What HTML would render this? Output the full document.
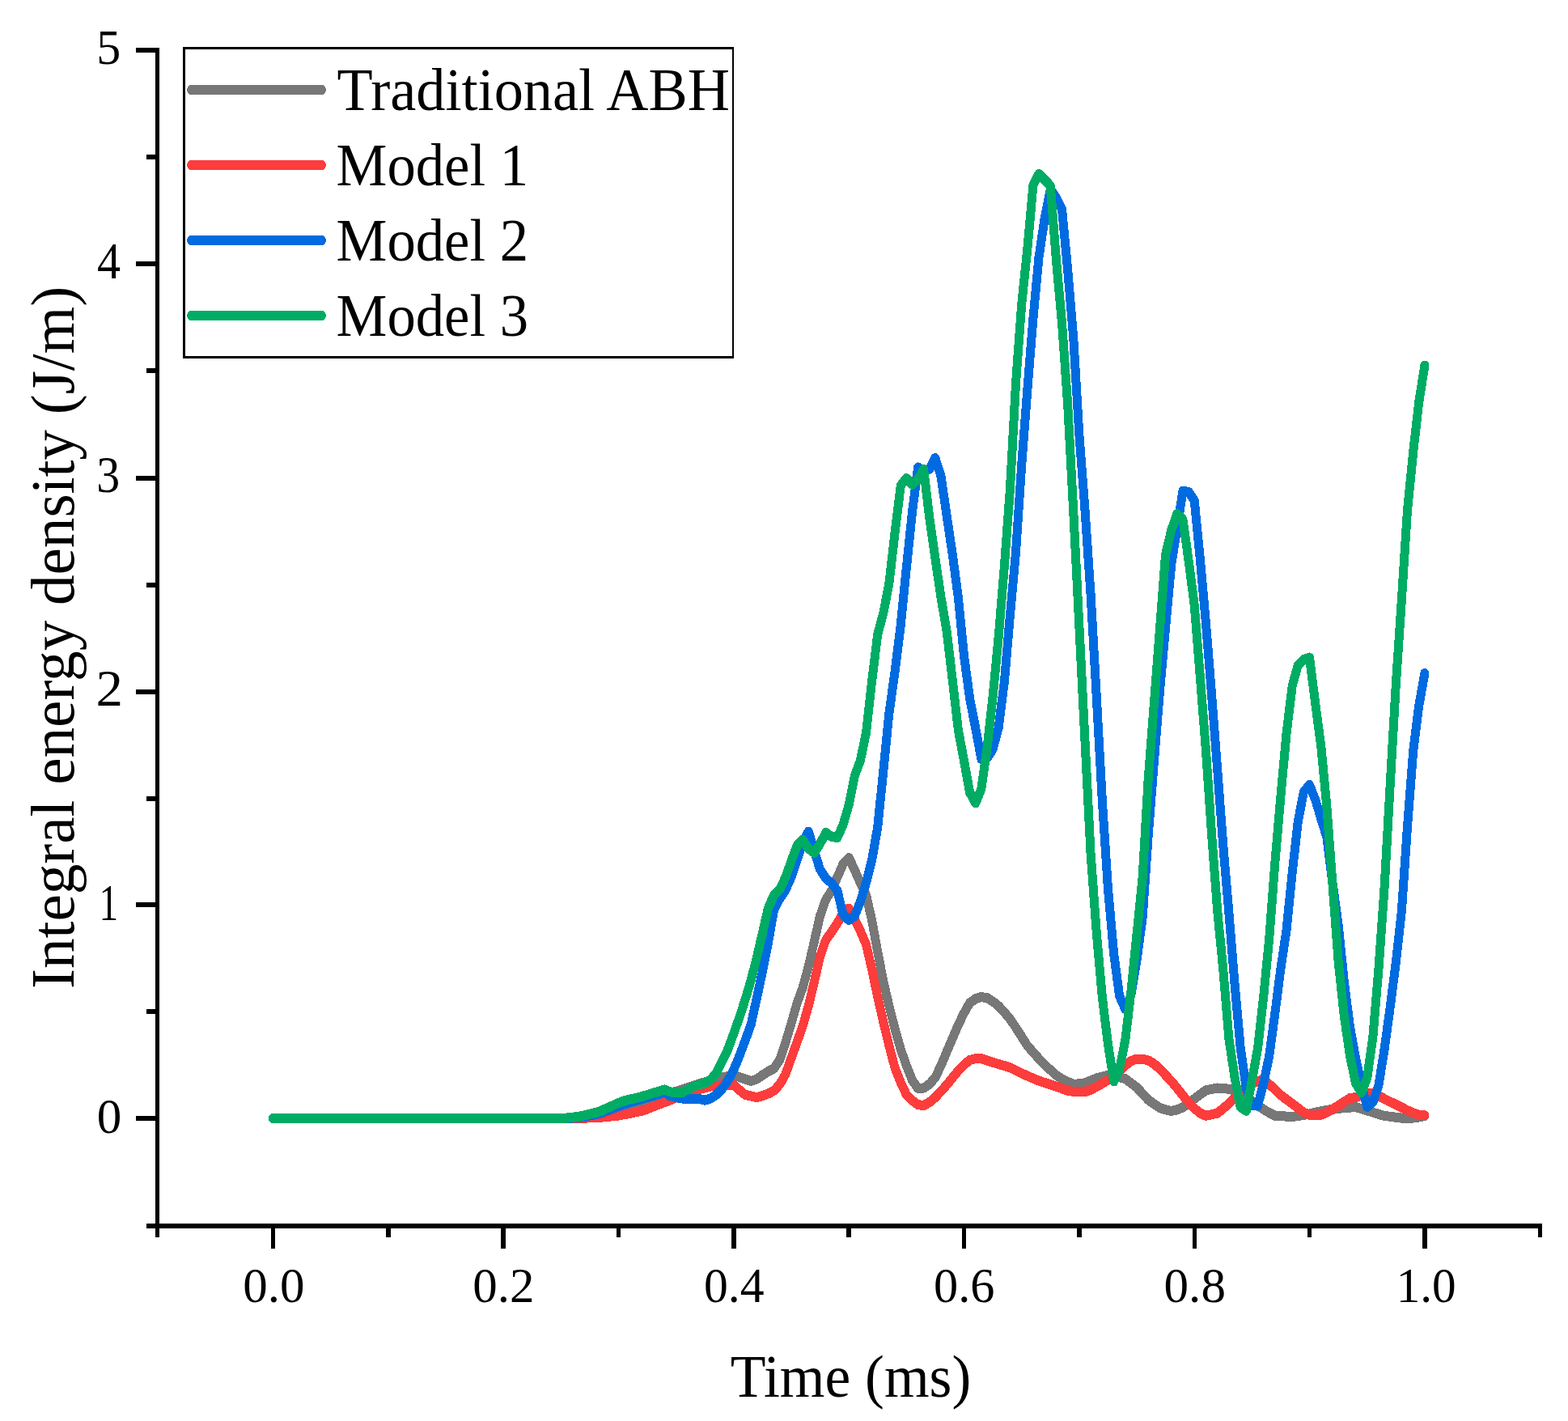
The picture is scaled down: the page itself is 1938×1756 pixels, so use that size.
<!DOCTYPE html>
<html lang="en"><head><meta charset="utf-8"><title>Integral energy density vs. time</title>
<style>html,body{margin:0;padding:0;background:#fff}svg{display:block}text{font-family:"Liberation Serif",serif;fill:#000}</style></head><body>
<svg width="1938" height="1756" viewBox="0 0 1938 1756">
<rect width="1938" height="1756" fill="#fff"/>
<g fill="none" stroke-linecap="round" stroke-linejoin="round" stroke-width="12.0" transform="scale(0.917,1)" shape-rendering="crispEdges">
<polyline stroke="#777777" points="367.9,1382.0 375.7,1382.0 383.5,1382.0 391.2,1382.0 399.0,1382.0 406.7,1382.0 414.5,1382.0 422.3,1382.0 430.0,1382.0 437.8,1382.0 445.6,1382.0 453.3,1382.0 461.1,1382.0 468.8,1382.0 476.6,1382.0 484.4,1382.0 492.1,1382.0 499.9,1382.0 507.6,1382.0 515.4,1382.0 523.2,1382.0 530.9,1382.0 538.7,1382.0 546.5,1382.0 554.2,1382.0 562.0,1382.0 569.7,1382.0 577.5,1382.0 585.3,1382.0 593.0,1382.0 600.8,1382.0 608.6,1382.0 616.3,1382.0 624.1,1382.0 631.8,1382.0 639.6,1382.0 647.4,1382.0 655.1,1382.0 662.9,1382.0 670.6,1382.0 678.4,1382.0 686.2,1382.0 693.9,1382.0 701.7,1382.0 709.5,1382.0 717.2,1382.0 725.0,1382.0 732.7,1382.0 740.5,1382.0 748.3,1382.0 756.0,1381.9 763.8,1381.6 771.5,1381.3 779.3,1381.0 787.1,1379.9 794.8,1378.8 802.6,1377.6 810.4,1376.0 818.1,1373.6 825.9,1371.2 833.6,1368.8 841.4,1366.6 849.2,1364.6 856.9,1362.7 864.7,1360.7 872.5,1358.7 880.2,1356.6 888.0,1354.6 895.7,1352.6 903.5,1350.7 911.3,1348.8 919.0,1346.4 926.8,1344.0 934.5,1341.7 942.3,1339.3 950.1,1337.3 957.8,1335.4 965.6,1333.5 973.4,1331.6 981.1,1330.0 988.9,1328.5 996.6,1331.0 1004.4,1333.5 1012.2,1336.0 1019.9,1333.6 1027.7,1328.6 1035.4,1324.0 1043.2,1320.4 1051.0,1309.6 1058.7,1288.5 1066.5,1264.6 1074.3,1239.7 1082.0,1220.2 1089.8,1194.1 1097.5,1163.3 1105.3,1131.8 1113.1,1111.5 1120.8,1100.8 1128.6,1084.0 1136.3,1067.8 1144.1,1060.0 1151.9,1074.9 1159.6,1091.2 1167.4,1106.0 1175.2,1137.3 1182.9,1176.1 1190.7,1212.9 1198.4,1243.4 1206.2,1271.3 1214.0,1296.6 1221.7,1316.6 1229.5,1334.9 1237.3,1345.0 1245.0,1344.5 1252.8,1339.6 1260.5,1331.7 1268.3,1316.7 1276.1,1299.7 1283.8,1283.0 1291.6,1266.4 1299.3,1252.0 1307.1,1239.4 1314.9,1234.2 1322.6,1232.0 1330.4,1233.2 1338.2,1237.6 1345.9,1243.1 1353.7,1251.0 1361.4,1259.2 1369.2,1269.8 1377.0,1281.0 1384.7,1292.2 1392.5,1300.3 1400.2,1308.3 1408.0,1316.0 1415.8,1322.2 1423.5,1328.5 1431.3,1333.6 1439.1,1336.8 1446.8,1340.0 1454.6,1339.3 1462.3,1338.3 1470.1,1335.4 1477.9,1332.4 1485.6,1330.6 1493.4,1328.8 1501.2,1330.0 1508.9,1331.3 1516.7,1333.1 1524.4,1338.4 1532.2,1343.8 1540.0,1351.5 1547.7,1359.2 1555.5,1364.3 1563.2,1369.0 1571.0,1371.3 1578.8,1373.0 1586.5,1371.3 1594.3,1368.5 1602.1,1363.2 1609.8,1357.9 1617.6,1352.5 1625.3,1347.4 1633.1,1346.0 1640.9,1344.5 1648.6,1345.1 1656.4,1345.7 1664.1,1347.8 1671.9,1351.5 1679.7,1355.2 1687.4,1360.5 1695.2,1365.9 1703.0,1370.9 1710.7,1375.1 1718.5,1378.8 1726.2,1379.2 1734.0,1379.6 1741.8,1380.0 1749.5,1379.0 1757.3,1378.0 1765.0,1376.6 1772.8,1374.8 1780.6,1373.1 1788.3,1371.8 1796.1,1370.8 1803.9,1369.9 1811.6,1369.2 1819.4,1368.6 1827.1,1368.0 1834.9,1370.2 1842.7,1372.4 1850.4,1374.6 1858.2,1376.9 1866.0,1378.9 1873.7,1379.8 1881.5,1380.7 1889.2,1381.6 1897.0,1382.5 1904.8,1381.5 1912.5,1380.5 1920.3,1379.0"/>
<polyline stroke="#FD3C3C" points="367.9,1382.0 375.7,1382.0 383.5,1382.0 391.2,1382.0 399.0,1382.0 406.7,1382.0 414.5,1382.0 422.3,1382.0 430.0,1382.0 437.8,1382.0 445.6,1382.0 453.3,1382.0 461.1,1382.0 468.8,1382.0 476.6,1382.0 484.4,1382.0 492.1,1382.0 499.9,1382.0 507.6,1382.0 515.4,1382.0 523.2,1382.0 530.9,1382.0 538.7,1382.0 546.5,1382.0 554.2,1382.0 562.0,1382.0 569.7,1382.0 577.5,1382.0 585.3,1382.0 593.0,1382.0 600.8,1382.0 608.6,1382.0 616.3,1382.0 624.1,1382.0 631.8,1382.0 639.6,1382.0 647.4,1382.0 655.1,1382.0 662.9,1382.0 670.6,1382.0 678.4,1382.0 686.2,1382.0 693.9,1382.0 701.7,1382.0 709.5,1382.0 717.2,1382.0 725.0,1382.0 732.7,1382.0 740.5,1382.0 748.3,1382.0 756.0,1382.0 763.8,1382.0 771.5,1382.0 779.3,1382.0 787.1,1381.7 794.8,1381.4 802.6,1381.2 810.4,1380.7 818.1,1380.0 825.9,1379.3 833.6,1378.6 841.4,1377.2 849.2,1375.8 856.9,1374.3 864.7,1372.9 872.5,1370.5 880.2,1367.6 888.0,1364.8 895.7,1362.2 903.5,1359.4 911.3,1356.3 919.0,1353.2 926.8,1350.1 934.5,1348.1 942.3,1346.2 950.1,1344.3 957.8,1342.4 965.6,1341.7 973.4,1341.3 981.1,1341.0 988.9,1340.6 996.6,1347.0 1004.4,1352.8 1012.2,1354.5 1019.9,1356.2 1027.7,1354.1 1035.4,1351.5 1043.2,1347.8 1051.0,1340.0 1058.7,1327.6 1066.5,1307.7 1074.3,1287.7 1082.0,1267.8 1089.8,1242.7 1097.5,1213.3 1105.3,1181.8 1113.1,1161.5 1120.8,1151.6 1128.6,1140.8 1136.3,1128.3 1144.1,1122.5 1151.9,1135.9 1159.6,1150.4 1167.4,1167.2 1175.2,1198.1 1182.9,1231.9 1190.7,1263.3 1198.4,1292.5 1206.2,1319.6 1214.0,1337.6 1221.7,1352.8 1229.5,1359.9 1237.3,1365.2 1245.0,1366.0 1252.8,1362.1 1260.5,1356.3 1268.3,1348.6 1276.1,1340.5 1283.8,1331.9 1291.6,1323.2 1299.3,1316.0 1307.1,1309.9 1314.9,1308.3 1322.6,1308.0 1330.4,1310.4 1338.2,1312.8 1345.9,1315.0 1353.7,1317.0 1361.4,1319.2 1369.2,1322.8 1377.0,1326.3 1384.7,1329.5 1392.5,1332.6 1400.2,1335.6 1408.0,1338.0 1415.8,1340.3 1423.5,1342.6 1431.3,1345.2 1439.1,1347.7 1446.8,1348.9 1454.6,1349.2 1462.3,1349.5 1470.1,1346.7 1477.9,1343.0 1485.6,1339.0 1493.4,1334.5 1501.2,1329.0 1508.9,1323.5 1516.7,1316.7 1524.4,1311.2 1532.2,1308.5 1540.0,1308.7 1547.7,1310.4 1555.5,1314.6 1563.2,1321.1 1571.0,1328.5 1578.8,1336.1 1586.5,1344.6 1594.3,1353.7 1602.1,1362.0 1609.8,1369.8 1617.6,1375.5 1625.3,1378.8 1633.1,1377.2 1640.9,1375.6 1648.6,1369.8 1656.4,1363.9 1664.1,1356.7 1671.9,1349.5 1679.7,1343.8 1687.4,1339.1 1695.2,1336.4 1703.0,1333.8 1710.7,1339.9 1718.5,1346.5 1726.2,1353.1 1734.0,1358.7 1741.8,1363.9 1749.5,1369.3 1757.3,1374.8 1765.0,1377.7 1772.8,1377.9 1780.6,1377.7 1788.3,1374.6 1796.1,1370.6 1803.9,1366.4 1811.6,1361.7 1819.4,1357.1 1827.1,1356.0 1834.9,1353.5 1842.7,1351.5 1850.4,1351.0 1858.2,1354.1 1866.0,1358.0 1873.7,1361.5 1881.5,1364.9 1889.2,1368.5 1897.0,1372.2 1904.8,1375.3 1912.5,1377.6 1920.3,1378.2"/>
<polyline stroke="#006BE0" points="367.9,1382.0 375.7,1382.0 383.5,1382.0 391.2,1382.0 399.0,1382.0 406.7,1382.0 414.5,1382.0 422.3,1382.0 430.0,1382.0 437.8,1382.0 445.6,1382.0 453.3,1382.0 461.1,1382.0 468.8,1382.0 476.6,1382.0 484.4,1382.0 492.1,1382.0 499.9,1382.0 507.6,1382.0 515.4,1382.0 523.2,1382.0 530.9,1382.0 538.7,1382.0 546.5,1382.0 554.2,1382.0 562.0,1382.0 569.7,1382.0 577.5,1382.0 585.3,1382.0 593.0,1382.0 600.8,1382.0 608.6,1382.0 616.3,1382.0 624.1,1382.0 631.8,1382.0 639.6,1382.0 647.4,1382.0 655.1,1382.0 662.9,1382.0 670.6,1382.0 678.4,1382.0 686.2,1382.0 693.9,1382.0 701.7,1382.0 709.5,1382.0 717.2,1382.0 725.0,1382.0 732.7,1382.0 740.5,1382.0 748.3,1382.0 756.0,1382.0 763.8,1382.0 771.5,1381.5 779.3,1381.0 787.1,1379.8 794.8,1378.5 802.6,1377.2 810.4,1375.3 818.1,1372.6 825.9,1369.9 833.6,1367.1 841.4,1364.5 849.2,1362.4 856.9,1360.3 864.7,1358.2 872.5,1356.1 880.2,1354.1 888.0,1352.0 895.7,1350.0 903.5,1354.1 911.3,1356.1 919.0,1357.4 926.8,1358.5 934.5,1358.2 942.3,1357.8 950.1,1359.6 957.8,1357.5 965.6,1352.6 973.4,1345.4 981.1,1335.4 988.9,1322.1 996.6,1305.0 1004.4,1285.9 1012.2,1266.0 1019.9,1234.1 1027.7,1200.6 1035.4,1165.0 1043.2,1123.8 1051.0,1110.6 1058.7,1100.0 1066.5,1083.8 1074.3,1063.0 1082.0,1040.9 1089.8,1027.5 1097.5,1052.3 1105.3,1074.3 1113.1,1085.5 1120.8,1091.2 1128.6,1100.6 1136.3,1130.0 1144.1,1137.0 1151.9,1132.0 1159.6,1114.3 1167.4,1090.7 1175.2,1062.8 1182.9,1022.1 1190.7,952.1 1198.4,880.9 1206.2,830.1 1214.0,772.4 1221.7,702.0 1229.5,633.1 1237.3,577.5 1245.0,582.0 1252.8,579.5 1260.5,566.0 1268.3,588.7 1276.1,637.7 1283.8,685.1 1291.6,738.8 1299.3,810.0 1307.1,863.3 1314.9,899.9 1322.6,938.0 1330.4,937.0 1338.2,925.8 1345.9,899.0 1353.7,842.7 1361.4,760.6 1369.2,681.8 1377.0,574.6 1384.7,482.5 1392.5,393.6 1400.2,318.0 1408.0,270.0 1415.8,234.0 1423.5,244.0 1431.3,258.0 1439.1,333.0 1446.8,417.2 1454.6,537.0 1462.3,629.1 1470.1,734.4 1477.9,860.5 1485.6,988.7 1493.4,1098.2 1501.2,1178.0 1508.9,1230.9 1516.7,1247.0 1524.4,1229.7 1532.2,1186.5 1540.0,1133.6 1547.7,1032.0 1555.5,941.0 1563.2,854.0 1571.0,775.5 1578.8,697.0 1586.5,653.0 1594.3,606.6 1602.1,608.0 1609.8,618.5 1617.6,690.7 1625.3,769.2 1633.1,858.2 1640.9,950.9 1648.6,1044.7 1656.4,1128.3 1664.1,1215.0 1671.9,1294.0 1679.7,1345.0 1687.4,1366.0 1695.2,1366.6 1703.0,1338.7 1710.7,1305.0 1718.5,1252.0 1726.2,1197.0 1734.0,1149.2 1741.8,1078.0 1749.5,1015.0 1757.3,978.3 1765.0,970.0 1772.8,987.9 1780.6,1011.9 1788.3,1034.7 1796.1,1091.2 1803.9,1143.7 1811.6,1212.6 1819.4,1268.4 1827.1,1307.2 1834.9,1340.1 1842.7,1368.0 1850.4,1362.1 1858.2,1340.9 1866.0,1296.4 1873.7,1244.8 1881.5,1189.1 1889.2,1125.7 1897.0,1020.9 1904.8,928.0 1912.5,872.0 1920.3,832.0"/>
<polyline stroke="#00AC64" points="367.9,1382.0 375.7,1382.0 383.5,1382.0 391.2,1382.0 399.0,1382.0 406.7,1382.0 414.5,1382.0 422.3,1382.0 430.0,1382.0 437.8,1382.0 445.6,1382.0 453.3,1382.0 461.1,1382.0 468.8,1382.0 476.6,1382.0 484.4,1382.0 492.1,1382.0 499.9,1382.0 507.6,1382.0 515.4,1382.0 523.2,1382.0 530.9,1382.0 538.7,1382.0 546.5,1382.0 554.2,1382.0 562.0,1382.0 569.7,1382.0 577.5,1382.0 585.3,1382.0 593.0,1382.0 600.8,1382.0 608.6,1382.0 616.3,1382.0 624.1,1382.0 631.8,1382.0 639.6,1382.0 647.4,1382.0 655.1,1382.0 662.9,1382.0 670.6,1382.0 678.4,1382.0 686.2,1382.0 693.9,1382.0 701.7,1382.0 709.5,1382.0 717.2,1382.0 725.0,1382.0 732.7,1382.0 740.5,1382.0 748.3,1382.0 756.0,1382.0 763.8,1381.5 771.5,1380.7 779.3,1380.0 787.1,1378.4 794.8,1376.7 802.6,1375.0 810.4,1372.6 818.1,1369.4 825.9,1366.2 833.6,1363.0 841.4,1360.1 849.2,1358.5 856.9,1356.9 864.7,1355.1 872.5,1353.0 880.2,1350.8 888.0,1348.7 895.7,1346.5 903.5,1349.4 911.3,1350.2 919.0,1350.4 926.8,1346.5 934.5,1342.6 942.3,1340.3 950.1,1338.5 957.8,1334.3 965.6,1325.7 973.4,1311.6 981.1,1296.7 988.9,1277.4 996.6,1257.2 1004.4,1235.3 1012.2,1211.5 1019.9,1183.6 1027.7,1153.1 1035.4,1122.2 1043.2,1105.9 1051.0,1098.8 1058.7,1084.3 1066.5,1064.1 1074.3,1044.8 1082.0,1037.5 1089.8,1048.9 1097.5,1053.8 1105.3,1042.8 1113.1,1028.8 1120.8,1034.0 1128.6,1035.0 1136.3,1019.4 1144.1,994.6 1151.9,958.9 1159.6,939.9 1167.4,905.6 1175.2,841.3 1182.9,784.1 1190.7,757.4 1198.4,720.5 1206.2,658.2 1214.0,600.1 1221.7,591.0 1229.5,598.8 1237.3,592.3 1245.0,580.0 1252.8,640.5 1260.5,689.9 1268.3,738.3 1276.1,780.3 1283.8,840.4 1291.6,902.3 1299.3,940.0 1307.1,979.3 1314.9,992.5 1322.6,975.2 1330.4,924.4 1338.2,860.8 1345.9,787.1 1353.7,699.7 1361.4,604.8 1369.2,473.0 1377.0,376.0 1384.7,308.0 1392.5,229.0 1400.2,215.0 1408.0,222.0 1415.8,229.5 1423.5,320.0 1431.3,398.7 1439.1,499.2 1446.8,631.7 1454.6,773.9 1462.3,914.3 1470.1,1054.9 1477.9,1152.3 1485.6,1231.8 1493.4,1290.3 1501.2,1336.5 1508.9,1321.6 1516.7,1285.1 1524.4,1225.8 1532.2,1154.7 1540.0,1083.6 1547.7,962.0 1555.5,869.5 1563.2,777.0 1571.0,685.0 1578.8,655.0 1586.5,635.0 1594.3,642.0 1602.1,693.0 1609.8,747.5 1617.6,836.5 1625.3,926.5 1633.1,1030.7 1640.9,1125.5 1648.6,1198.0 1656.4,1284.0 1664.1,1331.0 1671.9,1368.0 1679.7,1372.8 1687.4,1335.0 1695.2,1296.0 1703.0,1232.0 1710.7,1160.0 1718.5,1065.7 1726.2,983.9 1734.0,905.8 1741.8,847.3 1749.5,821.9 1757.3,814.8 1765.0,812.5 1772.8,868.8 1780.6,922.8 1788.3,996.8 1796.1,1093.3 1803.9,1188.5 1811.6,1254.7 1819.4,1304.4 1827.1,1338.3 1834.9,1350.0 1842.7,1332.0 1850.4,1281.6 1858.2,1197.2 1866.0,1096.3 1873.7,969.9 1881.5,845.6 1889.2,740.7 1897.0,629.8 1904.8,558.4 1912.5,496.6 1920.3,451.5"/>
</g>
<g fill="#000" shape-rendering="crispEdges">
<rect x="192" y="59" width="5" height="1470"/>
<rect x="181" y="1512" width="1725" height="6"/>
<rect x="168" y="59" width="25" height="6"/>
<rect x="181" y="191" width="12" height="6"/>
<rect x="168" y="323" width="25" height="6"/>
<rect x="181" y="455" width="12" height="6"/>
<rect x="168" y="588" width="25" height="6"/>
<rect x="181" y="720" width="12" height="6"/>
<rect x="168" y="852" width="25" height="6"/>
<rect x="181" y="984" width="12" height="6"/>
<rect x="168" y="1115" width="25" height="6"/>
<rect x="181" y="1247" width="12" height="6"/>
<rect x="168" y="1379" width="25" height="6"/>
<rect x="335" y="1517" width="5" height="26"/>
<rect x="477" y="1517" width="6" height="12"/>
<rect x="619" y="1517" width="6" height="26"/>
<rect x="762" y="1517" width="5" height="12"/>
<rect x="904" y="1517" width="6" height="26"/>
<rect x="1046" y="1517" width="6" height="12"/>
<rect x="1189" y="1517" width="5" height="26"/>
<rect x="1331" y="1517" width="6" height="12"/>
<rect x="1474" y="1517" width="5" height="26"/>
<rect x="1616" y="1517" width="5" height="12"/>
<rect x="1758" y="1517" width="6" height="26"/>
<rect x="1901" y="1517" width="5" height="12"/>
<rect x="226" y="58" width="681" height="3"/>
<rect x="226" y="440" width="681" height="3"/>
<rect x="226" y="58" width="3" height="385"/>
<rect x="905" y="58" width="2" height="385"/>
</g>
<g fill="none" stroke-linecap="round" stroke-width="12.0" transform="scale(0.917,1)" shape-rendering="crispEdges">
<line x1="258.02" y1="111.00" x2="433.37" y2="111.00" stroke="#777777"/>
<line x1="258.02" y1="204.00" x2="433.37" y2="204.00" stroke="#FD3C3C"/>
<line x1="258.02" y1="297.00" x2="433.37" y2="297.00" stroke="#006BE0"/>
<line x1="258.02" y1="390.00" x2="433.37" y2="390.00" stroke="#00AC64"/>
</g>
<text transform="translate(416.55,136.30) scale(0.7229,0.7471)" font-size="100">Traditional ABH</text>
<text transform="translate(415.55,228.90) scale(0.7070,0.7471)" font-size="100">Model 1</text>
<text transform="translate(415.55,322.00) scale(0.7070,0.7471)" font-size="100">Model 2</text>
<text transform="translate(415.55,415.20) scale(0.7070,0.7471)" font-size="100">Model 3</text>
<text transform="translate(902.67,1726.40) scale(0.7159,0.7444)" font-size="100">Time (ms)</text>
<text transform="translate(91.05,1222.00) rotate(-90) scale(0.7510,0.7589)" font-size="100">Integral energy density (J/m)</text>
<text transform="translate(300.26,1609.38) scale(0.6103,0.6099)" font-size="100">0.0</text>
<text transform="translate(584.16,1609.38) scale(0.6096,0.6099)" font-size="100">0.2</text>
<text transform="translate(869.91,1609.38) scale(0.5966,0.6099)" font-size="100">0.4</text>
<text transform="translate(1154.09,1609.38) scale(0.6034,0.6099)" font-size="100">0.6</text>
<text transform="translate(1438.56,1609.38) scale(0.6111,0.6099)" font-size="100">0.8</text>
<text transform="translate(1725.67,1609.38) scale(0.5920,0.6099)" font-size="100">1.0</text>
<text transform="translate(119.34,79.08) scale(0.6002,0.6118)" font-size="100">5</text>
<text transform="translate(119.91,343.68) scale(0.5816,0.6362)" font-size="100">4</text>
<text transform="translate(119.25,608.15) scale(0.5784,0.6296)" font-size="100">3</text>
<text transform="translate(118.40,872.48) scale(0.6689,0.6355)" font-size="100">2</text>
<text transform="translate(122.41,1136.78) scale(0.4732,0.6236)" font-size="100">1</text>
<text transform="translate(119.72,1399.54) scale(0.6113,0.6187)" font-size="100">0</text>
</svg></body></html>
